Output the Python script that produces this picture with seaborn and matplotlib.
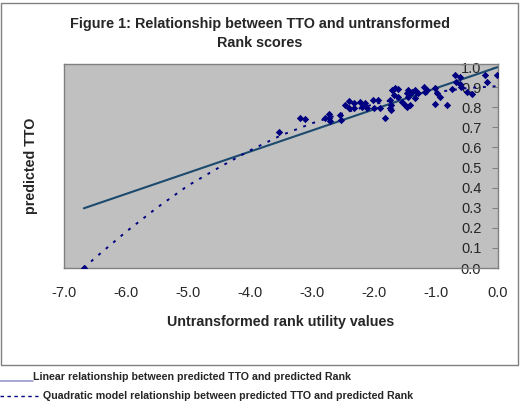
import matplotlib
matplotlib.use("Agg")
import matplotlib.pyplot as plt
from matplotlib.lines import Line2D
from matplotlib.patches import Rectangle
import seaborn as sns
import pandas as pd

# scatter: untransformed rank utility vs predicted TTO
rank_x = [-6.68, -3.53, -3.19, -3.11, -2.79, -2.72, -2.72, -2.71, -2.55, -2.54,
          -2.47, -2.40, -2.40, -2.33, -2.32, -2.23, -2.20, -2.15, -2.12, -2.01,
          -2.00, -1.93, -1.91, -1.82, -1.74, -1.73, -1.74, -1.73, -1.71, -1.66,
          -1.61, -1.68, -1.61, -1.55, -1.50, -1.47, -1.45, -1.42, -1.45, -1.42,
          -1.47, -1.39, -1.34, -1.34, -1.29, -1.20, -1.18, -1.15, -1.02, -0.99,
          -1.02, -0.94, -0.83, -0.75, -0.69, -0.68, -0.61, -0.61, -0.59, -0.50,
          -0.42, -0.21, -0.18, -0.01]
tto_y = [0.000, 0.678, 0.748, 0.740, 0.748, 0.765, 0.745, 0.731, 0.761, 0.736,
         0.811, 0.831, 0.794, 0.819, 0.794, 0.828, 0.803, 0.819, 0.794, 0.836,
         0.794, 0.836, 0.794, 0.748, 0.836, 0.811, 0.794, 0.786, 0.886, 0.894,
         0.889, 0.861, 0.852, 0.828, 0.811, 0.869, 0.886, 0.869, 0.852, 0.811,
         0.803, 0.878, 0.886, 0.844, 0.869, 0.902, 0.878, 0.886, 0.894, 0.869,
         0.814, 0.852, 0.811, 0.889, 0.960, 0.927, 0.952, 0.914, 0.902, 0.878,
         0.864, 0.960, 0.924, 0.960]

# linear relationship
lin_x = [-6.68, 0.0]
lin_y = [0.297, 1.0]

# quadratic model relationship
quad_x = [-6.68, -6.5, -6.0, -5.5, -5.0, -4.5, -4.0, -3.5, -3.0, -2.5, -2.0, -1.5, -1.0, -0.5, 0.0]
quad_y = [0.00, 0.05, 0.18, 0.30, 0.41, 0.50, 0.585, 0.66, 0.72, 0.77, 0.815, 0.85, 0.875, 0.895, 0.905]

x_ticks = [-7, -6, -5, -4, -3, -2, -1, 0]
y_ticks = [0.0, 0.1, 0.2, 0.3, 0.4, 0.5, 0.6, 0.7, 0.8, 0.9, 1.0]

sns.set_style("white")
plt.rcParams['font.family'] = ['Liberation Sans', 'DejaVu Sans']

W, H = 522, 409
fig = plt.figure(figsize=(W / 100, H / 100), dpi=100)
ax = fig.add_axes([64 / W, 1 - 268 / H, (498 - 64) / W, (268 - 64) / H])
ax.set_facecolor('#C0C0C0')

pts = pd.DataFrame({'rank': rank_x, 'tto': tto_y})
sns.lineplot(x=lin_x, y=lin_y, color='#1B4A6E', linewidth=1.5, ax=ax)
sns.lineplot(x=quad_x, y=quad_y, color='#000080', linewidth=1.4,
             linestyle=(0, (1.5, 3.5)), ax=ax)
sns.scatterplot(data=pts, x='rank', y='tto', marker='D', s=14, color='#000080',
                edgecolor='#000080', linewidth=0, ax=ax, zorder=3)

ax.set_xlim(-7, 0)
ax.set_ylim(0, 1.015)
ax.set_xticks(x_ticks)
ax.set_xticklabels(['%.1f' % v for v in x_ticks], fontsize=10.5)
ax.set_yticks(y_ticks)
ax.set_yticklabels(['%.1f' % v for v in y_ticks], fontsize=10.5)

# y axis sits at x = 0 (right edge), ticks and labels inside the plot
ax.yaxis.tick_right()
ax.yaxis.set_label_position('left')
ax.tick_params(axis='y', direction='in', length=4, width=0.8, color='#808080', pad=-12)
for lab in ax.get_yticklabels():
    lab.set_horizontalalignment('right')
ax.tick_params(axis='x', direction='out', length=4, width=0.8, color='#808080', pad=9)

for sp in ax.spines.values():
    sp.set_color('#808080')
    sp.set_linewidth(1)

ax.set_xlabel('Untransformed rank utility values', fontsize=10.3, fontweight='bold', labelpad=11)
ax.set_ylabel('predicted TTO', fontsize=10.3, fontweight='bold')
ax.yaxis.set_label_coords(-(64 - 38) / 434, 0.5)

fig.text(260 / W, 1 - 24 / H, 'Figure 1: Relationship between TTO and untransformed',
         ha='center', va='center', fontsize=10.4, fontweight='bold')
fig.text(260 / W, 1 - 43 / H, 'Rank scores',
         ha='center', va='center', fontsize=10.4, fontweight='bold')

# chart frame
fig.add_artist(Rectangle((1 / W, 1 - 365 / H), 517 / W, 362 / H, transform=fig.transFigure,
                         fill=False, edgecolor='#808080', linewidth=1))

# legend below the frame
fig.add_artist(Line2D([0, 33 / W], [1 - 381 / H, 1 - 381 / H], transform=fig.transFigure,
                      color='#9999CC', linewidth=1.2))
fig.text(33 / W, 1 - 377 / H, 'Linear relationship between predicted TTO and predicted Rank',
         ha='left', va='center', fontsize=7.7, fontweight='bold')
fig.add_artist(Line2D([0, 38 / W], [1 - 396 / H, 1 - 396 / H], transform=fig.transFigure,
                      color='#000080', linewidth=1, linestyle=(0, (2.5, 2.5))))
fig.text(43 / W, 1 - 396 / H, 'Quadratic model relationship between predicted TTO and predicted Rank',
         ha='left', va='center', fontsize=7.7, fontweight='bold')

fig.savefig('out.png', dpi=100)
